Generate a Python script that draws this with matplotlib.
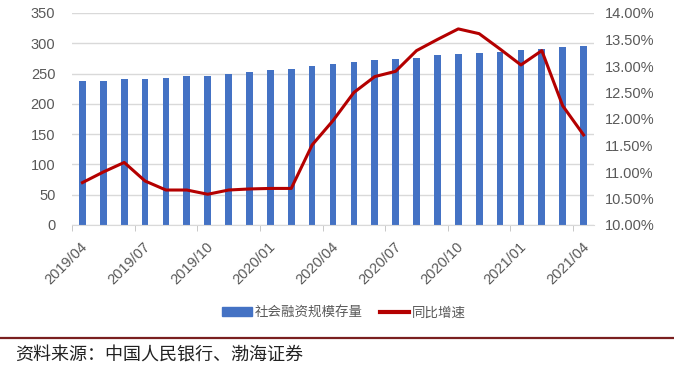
import matplotlib
matplotlib.use("Agg")
import matplotlib.pyplot as plt
import matplotlib.transforms as mtransforms
from matplotlib.lines import Line2D
from matplotlib.ticker import FuncFormatter, MultipleLocator

plt.rcParams['font.family'] = ['Liberation Sans', 'Noto Sans CJK SC', 'DejaVu Sans']

# 月份
months = ['2019/04', '2019/05', '2019/06', '2019/07', '2019/08', '2019/09',
          '2019/10', '2019/11', '2019/12', '2020/01', '2020/02', '2020/03',
          '2020/04', '2020/05', '2020/06', '2020/07', '2020/08', '2020/09',
          '2020/10', '2020/11', '2020/12', '2021/01', '2021/02', '2021/03',
          '2021/04']
# 社会融资规模存量（万亿元）
stock = [237, 238.5, 240.8, 241.8, 243.5, 245.7, 246.8, 249, 251.8, 255.7,
         257.3, 262.3, 265, 268.4, 271.7, 273.4, 276, 280, 281.6, 283.3,
         285, 289.3, 291, 294.3, 296]
# 同比增速（%）
growth = [10.8, 11.0, 11.18, 10.83, 10.66, 10.66, 10.58, 10.66, 10.68, 10.69,
          10.69, 11.51, 11.97, 12.5, 12.8, 12.9, 13.29, 13.5, 13.7, 13.61,
          13.32, 13.02, 13.29, 12.25, 11.7]
label_every = 3

bar_color = '#4472C4'
line_color = '#B40000'
text_color = '#595959'

fig = plt.figure(figsize=(6.74, 3.72), dpi=100)
ax = fig.add_axes([72 / 674, 1 - 225 / 372, 522 / 674, 212 / 372])
ax2 = ax.twinx()

x = list(range(len(months)))
ax.bar(x, stock, width=0.32, color=bar_color, zorder=2)
ax2.plot(x, growth, color=line_color, lw=2.2, zorder=3, solid_joinstyle='round')

ax.set_xlim(-0.5, len(months) - 0.5)
ax.set_ylim(0, 350)
ax.yaxis.set_major_locator(MultipleLocator(50))
ax2.set_ylim(10, 14)
ax2.yaxis.set_major_locator(MultipleLocator(0.5))
ax2.yaxis.set_major_formatter(FuncFormatter(lambda v, p: f'{v:.2f}%'))

ax.grid(axis='y', color='#D9D9D9', lw=1, zorder=0)
ax.set_axisbelow(True)
for a in (ax, ax2):
    for s in ('top', 'left', 'right', 'bottom'):
        a.spines[s].set_visible(False)
ax.spines['bottom'].set_visible(True)
ax.spines['bottom'].set_color('#D9D9D9')

ax.tick_params(axis='y', length=0, labelsize=10.5, labelcolor=text_color, pad=12)
ax2.tick_params(axis='y', length=0, labelsize=10.5, labelcolor=text_color, pad=8)

ticks = x[::label_every]
ax.set_xticks(ticks)
ax.set_xticklabels([months[i] for i in ticks], rotation=45, ha='right',
                   va='top', rotation_mode='anchor', fontsize=10.5, color=text_color)
ax.tick_params(axis='x', which='major', length=0, pad=4)
ax.set_xticks([i - 0.5 for i in ticks], minor=True)
ax.tick_params(axis='x', which='minor', length=4, color='#BFBFBF')
offset = mtransforms.ScaledTranslation(-2 / 100, -9 / 100, fig.dpi_scale_trans)
for lbl in ax.get_xticklabels():
    lbl.set_transform(lbl.get_transform() + offset)

handles = [plt.Rectangle((0, 0), 1, 1, color=bar_color),
           Line2D([], [], color=line_color, lw=3)]
fig.legend(handles, ['社会融资规模存量', '同比增速'], loc='center',
           bbox_to_anchor=(344 / 674, 1 - 313 / 372), ncol=2, frameon=False,
           fontsize=9.7, labelcolor=text_color, handlelength=2.2,
           handleheight=0.6, handletextpad=0.2, columnspacing=1.3)

fig.add_artist(Line2D([0, 1], [1 - 338 / 372] * 2, color='#7A1F1F', lw=1.6,
                      transform=fig.transFigure))
fig.text(15 / 674, 1 - 356 / 372, '资料来源：中国人民银行、渤海证券',
         fontsize=13, style='italic', va='center', ha='left', color='#222222')

fig.savefig('out.png', dpi=100)
